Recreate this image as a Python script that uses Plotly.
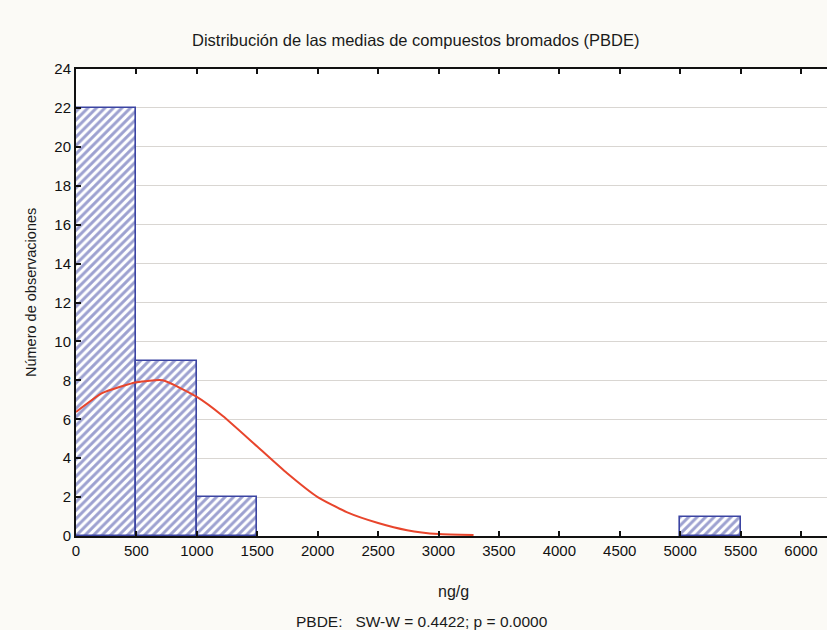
import plotly.graph_objects as go

# Histogram bins (ng/g) and observed counts
bin_centers = [250, 750, 1250, 5250]
bin_width = 500
counts = [22, 9, 2, 1]

# Expected normal curve
curve_x = [0, 220, 500, 717, 1000, 1215, 1500, 1745, 2000, 2240, 2500, 2740, 3000, 3290]
curve_y = [6.37, 7.35, 7.9, 8.0, 7.15, 6.17, 4.6, 3.24, 2.0, 1.23, 0.67, 0.3, 0.1, 0.05]

x_ticks = [0, 500, 1000, 1500, 2000, 2500, 3000, 3500, 4000, 4500, 5000, 5500, 6000]
y_ticks = [0, 2, 4, 6, 8, 10, 12, 14, 16, 18, 20, 22, 24]

title_text = "Distribución de las medias de compuestos bromados (PBDE)"
x_title = "ng/g"
y_title = "Número de observaciones"
footer = "PBDE:   SW-W = 0.4422; p = 0.0000"

blue = "#3b44a2"
red = "#e8452c"
font_family = "Liberation Sans, Arial, sans-serif"

W, H = 827, 630
ML, MR, MT, MB = 76, 0, 69, 94

fig = go.Figure()
fig.add_trace(go.Bar(
    x=bin_centers, y=counts, width=[bin_width] * len(counts),
    marker=dict(
        color="white",
        line=dict(color=blue, width=1.6),
        pattern=dict(shape="/", fgcolor=blue, bgcolor="white", size=6, solidity=0.5),
    ),
    showlegend=False, hoverinfo="skip",
))
fig.add_trace(go.Scatter(
    x=curve_x, y=curve_y, mode="lines",
    line=dict(color=red, width=2, shape="spline", smoothing=0.5),
    showlegend=False, hoverinfo="skip",
))

fig.update_layout(
    width=W, height=H,
    margin=dict(l=ML, r=MR, t=MT, b=MB),
    paper_bgcolor="#fbfaf6", plot_bgcolor="white",
    font=dict(family=font_family, color="#1a1a1a"),
    bargap=0,
)

plot_h = H - MT - MB
plot_w = W - ML - MR
def py(pixel_y):
    return (H - MB - pixel_y) / plot_h
def px(pixel_x):
    return (pixel_x - ML) / plot_w

fig.add_annotation(text=title_text, x=px(416), y=py(40), xref="paper", yref="paper",
                   showarrow=False, font=dict(size=16.5), xanchor="center", yanchor="middle")
fig.add_annotation(text=x_title, x=px(453), y=py(591), xref="paper", yref="paper",
                   showarrow=False, font=dict(size=16), xanchor="center", yanchor="middle")
fig.add_annotation(text=footer, x=px(422), y=py(621), xref="paper", yref="paper",
                   showarrow=False, font=dict(size=15.5), xanchor="center", yanchor="middle")
fig.add_annotation(text=y_title, x=px(31), y=py(293), xref="paper", yref="paper",
                   showarrow=False, font=dict(size=14.5), textangle=-90,
                   xanchor="center", yanchor="middle")

fig.update_xaxes(
    range=[0, 6215], tickvals=x_ticks, ticktext=[str(v) for v in x_ticks],
    showgrid=False, zeroline=False,
    showline=True, linecolor="#111", linewidth=2, mirror="ticks",
    ticks="inside", ticklen=5, tickcolor="#111", tickwidth=1.5,
    tickfont=dict(size=15, family=font_family, color="#111"),
)
fig.update_yaxes(
    range=[0, 24], tickvals=y_ticks, ticktext=[str(v) for v in y_ticks],
    showgrid=True, gridcolor="#d9d6d2", gridwidth=1.3, zeroline=False,
    showline=True, linecolor="#111", linewidth=2, mirror=False,
    ticks="inside", ticklen=5, tickcolor="#111", tickwidth=1.5,
    tickfont=dict(size=15, family=font_family, color="#111"),
)

fig.write_html("out.html",
               config={"displayModeBar": False},
               post_script="document.body.style.margin='0px';document.body.style.overflow='hidden';document.body.style.background='#fbfaf6';")
